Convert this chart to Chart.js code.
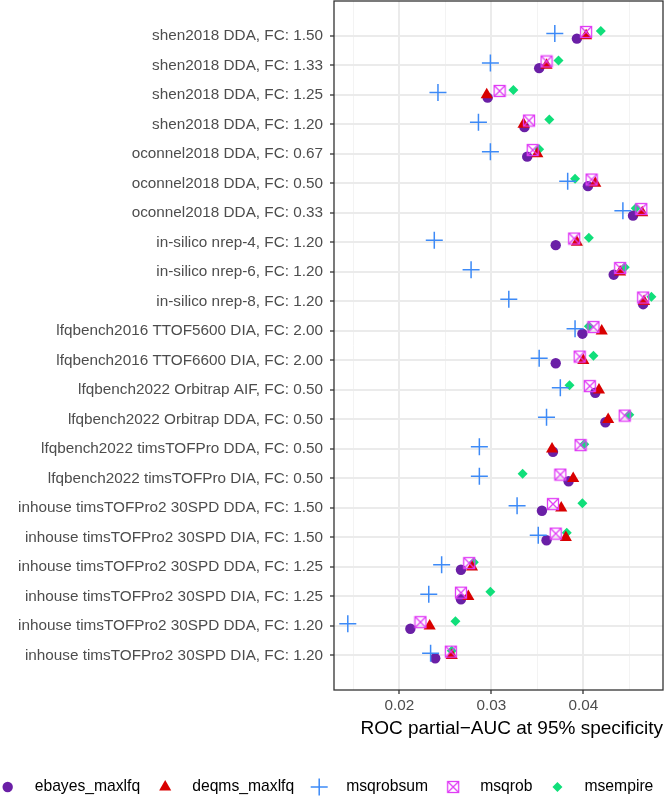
<!DOCTYPE html>
<html>
<head>
<meta charset="utf-8">
<script src="https://cdn.jsdelivr.net/npm/chart.js"></script>
<style>
  html, body { margin: 0; padding: 0; background: #ffffff; }
  canvas { display: block; }
</style>
</head>
<body>
<canvas id="auc-chart" width="666" height="796"></canvas>
<script>
// Benchmarks (top to bottom)
var categories = [
  'shen2018 DDA, FC: 1.50',
  'shen2018 DDA, FC: 1.33',
  'shen2018 DDA, FC: 1.25',
  'shen2018 DDA, FC: 1.20',
  'oconnel2018 DDA, FC: 0.67',
  'oconnel2018 DDA, FC: 0.50',
  'oconnel2018 DDA, FC: 0.33',
  'in-silico nrep-4, FC: 1.20',
  'in-silico nrep-6, FC: 1.20',
  'in-silico nrep-8, FC: 1.20',
  'lfqbench2016 TTOF5600 DIA, FC: 2.00',
  'lfqbench2016 TTOF6600 DIA, FC: 2.00',
  'lfqbench2022 Orbitrap AIF, FC: 0.50',
  'lfqbench2022 Orbitrap DDA, FC: 0.50',
  'lfqbench2022 timsTOFPro DDA, FC: 0.50',
  'lfqbench2022 timsTOFPro DIA, FC: 0.50',
  'inhouse timsTOFPro2 30SPD DDA, FC: 1.50',
  'inhouse timsTOFPro2 30SPD DIA, FC: 1.50',
  'inhouse timsTOFPro2 30SPD DDA, FC: 1.25',
  'inhouse timsTOFPro2 30SPD DIA, FC: 1.25',
  'inhouse timsTOFPro2 30SPD DDA, FC: 1.20',
  'inhouse timsTOFPro2 30SPD DIA, FC: 1.20'
];

// ROC partial-AUC per method (same order as categories)
var ebayes_maxlfq = [0.0393, 0.0352, 0.0296, 0.0336, 0.0339, 0.0405, 0.0454, 0.0370, 0.0433, 0.0465, 0.0399,
                     0.0370, 0.0413, 0.0424, 0.0367, 0.0384, 0.0355, 0.0360, 0.0267, 0.0267, 0.0212, 0.0239];
var deqms_maxlfq  = [0.0403, 0.0360, 0.0295, 0.0335, 0.0350, 0.0413, 0.0464, 0.0393, 0.0440, 0.0466, 0.0420,
                     0.0400, 0.0417, 0.0427, 0.0366, 0.0389, 0.0376, 0.0381, 0.0279, 0.0275, 0.0233, 0.0257];
var msqrobsum     = [0.0369, 0.0299, 0.0242, 0.0286, 0.0299, 0.0383, 0.0443, 0.0238, 0.0278, 0.0319, 0.0391,
                     0.0352, 0.0375, 0.0360, 0.0287, 0.0287, 0.0328, 0.0351, 0.0246, 0.0232, 0.0144, 0.0234];
var msqrob        = [0.0403, 0.0360, 0.0309, 0.0341, 0.0345, 0.0409, 0.0463, 0.0390, 0.0440, 0.0465, 0.0411,
                     0.0396, 0.0407, 0.0445, 0.0397, 0.0375, 0.0367, 0.0370, 0.0276, 0.0267, 0.0223, 0.0256];
var msempire      = [0.0419, 0.0373, 0.0324, 0.0363, 0.0352, 0.0391, 0.0457, 0.0406, 0.0445, 0.0474, 0.0406,
                     0.0411, 0.0385, 0.0450, 0.0401, 0.0334, 0.0399, 0.0382, 0.0281, 0.0299, 0.0261, 0.0257];

// x axis ticks (major ones get labels)
var xTicks = [0.015, 0.02, 0.025, 0.03, 0.035, 0.04, 0.045];
var xMajor = [0.02, 0.03, 0.04];

var FONT = "'Liberation Sans', Arial, sans-serif";

// square with a cross inside (ggplot shape 7)
function makeBoxCross(color) {
  var c = document.createElement('canvas');
  c.width = 14; c.height = 14;
  var g = c.getContext('2d');
  g.strokeStyle = color;
  g.lineWidth = 1.3;
  g.strokeRect(1.5, 1.5, 11, 11);
  g.beginPath();
  g.moveTo(1.5, 1.5); g.lineTo(12.5, 12.5);
  g.moveTo(12.5, 1.5); g.lineTo(1.5, 12.5);
  g.stroke();
  return c;
}

// series look, dodge is a small vertical shift in category units
var series = [
  { label: 'ebayes_maxlfq', values: ebayes_maxlfq, color: '#6a1fa6', style: 'circle',   radius: 5.2, border: 0,   dodge: 0.095,  order: 4 },
  { label: 'deqms_maxlfq',  values: deqms_maxlfq,  color: '#d90000', style: 'triangle', radius: 7,   border: 0,   dodge: 0.0,    order: 3 },
  { label: 'msqrobsum',     values: msqrobsum,     color: '#3d8af7', style: 'cross',    radius: 8.5, border: 1.5, dodge: -0.075, order: 2 },
  { label: 'msqrob',        values: msqrob,        color: '#e03cf5', style: makeBoxCross('#e03cf5'), radius: 7, border: 0, dodge: -0.13, order: 1 },
  { label: 'msempire',      values: msempire,      color: '#10df7a', style: 'rectRot',  radius: 5,   border: 0,   dodge: -0.16,  order: 5 }
];

function isMajor(v) {
  return xMajor.some(function (m) { return Math.abs(m - v) < 1e-9; });
}

var datasets = series.map(function (s) {
  return {
    label: s.label,
    data: s.values.map(function (v, i) { return { x: v, y: i + s.dodge }; }),
    backgroundColor: s.color,
    borderColor: s.color,
    pointStyle: s.style,
    pointRadius: s.radius,
    pointHoverRadius: s.radius,
    pointBorderWidth: s.border,
    showLine: false,
    order: s.order
  };
});

// no extra label overhang padding, the plot panel is placed by hand
function noPadding(scale) {
  scale.paddingTop = 0;
  scale.paddingBottom = 0;
  scale.paddingLeft = 0;
  scale.paddingRight = 0;
}

// panel border on top of the points
var panelBorder = {
  id: 'panelBorder',
  afterDatasetsDraw: function (chart) {
    var a = chart.chartArea, ctx = chart.ctx;
    ctx.save();
    ctx.strokeStyle = '#333333';
    ctx.lineWidth = 1.3;
    ctx.strokeRect(a.left, a.top, a.right - a.left, a.bottom - a.top);
    ctx.restore();
  }
};

// legend row at the bottom, ggplot-like
var bottomLegend = {
  id: 'bottomLegend',
  afterDraw: function (chart) {
    var ctx = chart.ctx;
    var y = 787;
    var toText = 27, toNext = 25;
    ctx.save();
    ctx.font = '15.7px ' + FONT;
    var widths = series.map(function (s) { return ctx.measureText(s.label).width; });
    var total = 5;
    widths.forEach(function (w, i) { total += toText + w + (i < widths.length - 1 ? toNext : 0); });
    var x = (chart.width - total) / 2;
    series.forEach(function (s, i) {
      ctx.fillStyle = s.color;
      ctx.strokeStyle = s.color;
      ctx.lineWidth = s.border;
      Chart.helpers.drawPoint(ctx, { pointStyle: s.style, rotation: 0, radius: s.radius, borderWidth: s.border }, x, y);
      ctx.fillStyle = '#000000';
      ctx.textAlign = 'left';
      ctx.textBaseline = 'middle';
      ctx.fillText(s.label, x + toText, y);
      x += toText + widths[i] + toNext;
    });
    ctx.restore();
  }
};

var ctx = document.getElementById('auc-chart').getContext('2d');
var aucChart = new Chart(ctx, {
  type: 'scatter',
  data: { datasets: datasets },
  plugins: [panelBorder, bottomLegend],
  options: {
    responsive: false,
    animation: false,
    events: [],
    layout: { autoPadding: false, padding: { top: 1, right: 3, left: 0, bottom: 0 } },
    plugins: {
      legend: { display: false },
      tooltip: { enabled: false },
      title: { display: false }
    },
    scales: {
      x: {
        type: 'linear',
        min: 0.0129,
        max: 0.04866,
        afterBuildTicks: function (axis) {
          axis.ticks = xTicks.map(function (v) { return { value: v }; });
        },
        afterFit: function (scale) { scale.height = 106; noPadding(scale); },
        border: { display: false },
        grid: {
          color: function (c) { return c.tick && isMajor(c.tick.value) ? '#ebebeb' : '#f3f3f3'; },
          lineWidth: function (c) { return c.tick && isMajor(c.tick.value) ? 2 : 1; },
          tickColor: function (c) { return c.tick && isMajor(c.tick.value) ? '#333333' : 'rgba(0,0,0,0)'; },
          tickLength: 4,
          tickWidth: 1.3
        },
        ticks: {
          autoSkip: false,
          maxRotation: 0,
          padding: 3,
          color: '#4d4d4d',
          font: { family: FONT, size: 15.3 },
          callback: function (value) { return isMajor(value) ? String(Math.round(value * 100) / 100) : ''; }
        },
        title: {
          display: true,
          text: 'ROC partial\u2212AUC at 95% specificity',
          align: 'end',
          color: '#000000',
          font: { family: FONT, size: 19 },
          padding: { top: 0, bottom: 55.6 }
        }
      },
      y: {
        type: 'linear',
        reverse: true,
        min: -1.18,
        max: 22.17,
        afterBuildTicks: function (axis) {
          axis.ticks = categories.map(function (c, i) { return { value: i }; });
        },
        afterFit: function (scale) { scale.width = 334; noPadding(scale); },
        border: { display: false },
        grid: {
          color: '#ebebeb',
          lineWidth: 2,
          tickColor: '#333333',
          tickLength: 4,
          tickWidth: 1.3
        },
        ticks: {
          autoSkip: false,
          padding: 7,
          color: '#4d4d4d',
          font: { family: FONT, size: 15.3 },
          callback: function (value) { return categories[value]; }
        }
      }
    }
  }
});
</script>
</body>
</html>
